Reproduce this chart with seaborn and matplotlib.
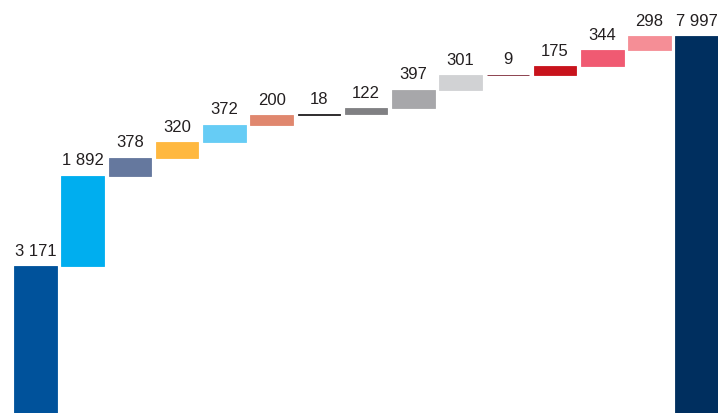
import matplotlib
matplotlib.use("Agg")
import matplotlib.pyplot as plt
import seaborn as sns
import numpy as np
import pandas as pd

categories = ["A", "B", "C", "D", "E", "F", "G", "H", "I", "J", "K", "L", "M", "N", "Total"]
values = [3171, 1892, 378, 320, 372, 200, 18, 122, 397, 301, 9, 175, 344, 298, 7997]
labels = ["3 171", "1 892", "378", "320", "372", "200", "18", "122", "397", "301", "9", "175", "344", "298", "7 997"]
colors = ["#00529B", "#00AEEF", "#65789E", "#FFB83F", "#66CCF5", "#E0876E", "#231F20",
          "#808083", "#A7A7AA", "#D1D2D4", "#7B2432", "#C8131C", "#F05A72", "#F58E96", "#002F5F"]

steps = np.array(values[:-1])
bottoms = list(np.concatenate([[0], np.cumsum(steps)[:-1]])) + [0]

sns.set_theme(style="white")
plt.rcParams["font.family"] = ["Liberation Sans", "DejaVu Sans"]

fig = plt.figure(figsize=(7.18, 4.14), dpi=100)
ax = fig.add_axes([0, 0, 1, 1])

df = pd.DataFrame({"cat": categories, "val": values})
sns.barplot(data=df, x="cat", y="val", bottom=bottoms, width=0.9, ax=ax,
            errorbar=None, linewidth=0, color="#000000", saturation=1)
for p, c in zip(ax.patches, colors):
    p.set_facecolor(c)
    p.set_edgecolor(c)
    p.set_linewidth(0.6)

for i, (b, v, lab) in enumerate(zip(bottoms, values, labels)):
    ax.annotate(lab, (i, b + v), xytext=(0, 6), textcoords="offset points",
                ha="center", va="bottom", fontsize=12, color="#231F20")

ax.set_xlim(-0.75, 14.45)
ax.set_ylim(84, 8770)
ax.axis("off")
fig.savefig("out.png", dpi=100)
